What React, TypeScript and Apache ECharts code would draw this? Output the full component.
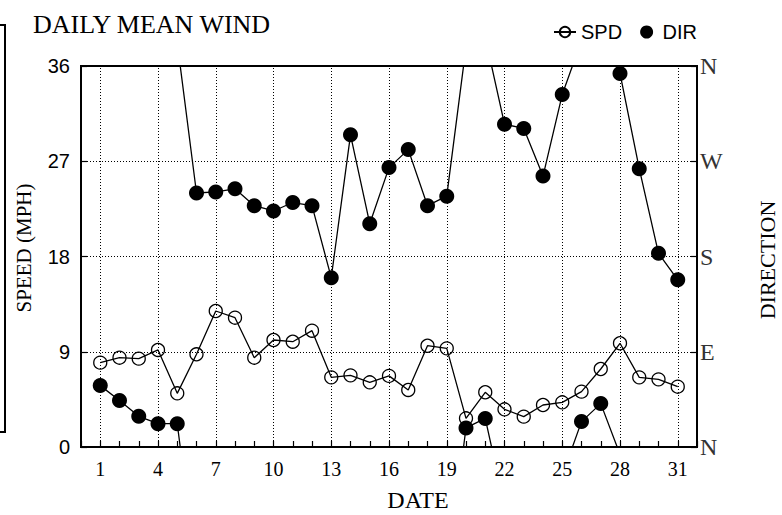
import React, { useEffect, useRef } from "react";
import * as echarts from "echarts";

// ---- data ----
const days = [1, 2, 3, 4, 5, 6, 7, 8, 9, 10, 11, 12, 13, 14, 15, 16, 17, 18, 19, 20, 21, 22, 23, 24, 25, 26, 27, 28, 29, 30, 31];
const speedMph = [7.97, 8.44, 8.35, 9.17, 5.07, 8.76, 12.85, 12.22, 8.44, 10.11, 9.95, 10.99, 6.58, 6.77, 6.11, 6.72, 5.39, 9.57, 9.32, 2.71, 5.17, 3.56, 2.87, 3.97, 4.22, 5.23, 7.37, 9.8, 6.58, 6.39, 5.7];
const directionDeg = [58, 44, 29, 22, 22, 240, 241, 244, 228, 223, 231, 228, 160, 295, 211, 264, 281, 228, 237, 18, 27, 305, 301, 256, 333, 24, 41, 353, 263, 183, 158];
const dateTickLabels = [1, 4, 7, 10, 13, 16, 19, 22, 25, 28, 31];
const directionTickLabels = ["N", "E", "S", "W", "N"];

const SERIF = "'Liberation Serif', 'Times New Roman', serif";
const SANS = "'Liberation Sans', Arial, sans-serif";
const DOT: number[] = [1, 2];

// split the direction trace where it wraps through north
function directionRuns(): number[][][] {
  const runs: number[][][] = [];
  let cur: number[][] = [[days[0], directionDeg[0]]];
  for (let i = 0; i < days.length - 1; i++) {
    const a = directionDeg[i];
    const b = directionDeg[i + 1];
    const d = b - a;
    if (d > 180) {
      cur.push([days[i + 1], b - 360]);
      runs.push(cur);
      cur = [[days[i], a + 360], [days[i + 1], b]];
    } else if (d < -180) {
      cur.push([days[i + 1], b + 360]);
      runs.push(cur);
      cur = [[days[i], a - 360], [days[i + 1], b]];
    } else {
      cur.push([days[i + 1], b]);
    }
  }
  runs.push(cur);
  return runs;
}

export default function App() {
  const ref = useRef<HTMLDivElement>(null);
  useEffect(() => {
    const chart = echarts.init(ref.current as HTMLDivElement, null, { renderer: "svg" });
    const runs = directionRuns();
    const dirLineSeries = runs.map((run, k) => ({
      type: "line",
      name: "DIRline" + k,
      yAxisIndex: 1,
      data: run,
      showSymbol: false,
      symbol: "none",
      clip: true,
      silent: true,
      lineStyle: { color: "#000", width: 1.3 },
      z: 3,
    }));
    const option: any = {
      animation: false,
      backgroundColor: "#fff",
      title: {
        text: "DAILY MEAN WIND",
        left: 33,
        top: 11,
        padding: 0,
        textStyle: { fontFamily: SERIF, fontSize: 26, fontWeight: "normal", color: "#000" },
      },
      legend: {
        data: [
          { name: "SPD" },
          { name: "DIR", icon: "circle" },
        ],
        left: 553,
        top: 22,
        padding: 0,
        itemGap: 18,
        itemWidth: 22,
        itemHeight: 13,
        selectedMode: false,
        textStyle: { fontFamily: SANS, fontSize: 20, color: "#000" },
      },
      grid: {
        left: 81,
        right: 85,
        top: 66,
        bottom: 68,
        show: true,
        borderColor: "#000",
        borderWidth: 2,
        containLabel: false,
      },
      xAxis: {
        type: "value",
        min: 0,
        max: 32,
        interval: 1,
        axisLine: { show: true, lineStyle: { color: "#000", width: 2 } },
        axisTick: { show: true, inside: true, length: 6, lineStyle: { color: "#000", width: 1.2 } },
        splitLine: { show: false },
        axisLabel: {
          margin: 12,
          fontFamily: SERIF,
          fontSize: 20,
          color: "#000",
          formatter: (v: number) => (dateTickLabels.indexOf(v) >= 0 ? String(v) : ""),
        },
      },
      yAxis: [
        {
          type: "value",
          min: 0,
          max: 36,
          interval: 9,
          position: "left",
          axisLine: { show: true, lineStyle: { color: "#000", width: 2 } },
          axisTick: { show: true, inside: true, length: 6, lineStyle: { color: "#000", width: 1.2 } },
          splitLine: { show: true, lineStyle: { color: "#000", width: 1, type: DOT } },
          axisLabel: { margin: 11, fontFamily: SANS, fontSize: 20, color: "#000" },
        },
        {
          type: "value",
          min: 0,
          max: 360,
          interval: 90,
          position: "right",
          axisLine: { show: true, lineStyle: { color: "#000", width: 2 } },
          axisTick: { show: true, inside: true, length: 6, lineStyle: { color: "#000", width: 1.2 } },
          splitLine: { show: false },
          axisLabel: {
            margin: 3,
            fontFamily: SERIF,
            fontSize: 24,
            color: "#333",
            formatter: (v: number) => directionTickLabels[Math.round(v / 90)],
          },
        },
      ],
      graphic: [
        {
          type: "rect",
          shape: { x: -10, y: 25, width: 15, height: 407 },
          style: { fill: "none", stroke: "#000", lineWidth: 2 },
          silent: true,
        },
        {
          type: "text",
          x: 418,
          y: 500,
          style: { text: "DATE", fontFamily: SERIF, fontSize: 24, fill: "#000", align: "center", verticalAlign: "middle" },
          silent: true,
        },
        {
          type: "text",
          x: 24,
          y: 248,
          rotation: Math.PI / 2,
          style: { text: "SPEED (MPH)", fontFamily: SERIF, fontSize: 21, fill: "#000", align: "center", verticalAlign: "middle" },
          silent: true,
        },
        {
          type: "text",
          x: 767,
          y: 260,
          rotation: Math.PI / 2,
          style: { text: "DIRECTION", fontFamily: SERIF, fontSize: 22, fill: "#000", align: "center", verticalAlign: "middle" },
          silent: true,
        },
      ],
      series: [
        {
          type: "line",
          name: "SPD",
          data: days.map((d, i) => [d, speedMph[i]]),
          symbol: "circle",
          symbolSize: 13,
          showSymbol: true,
          itemStyle: { color: "rgba(255,255,255,0)", borderColor: "#000", borderWidth: 1.3 },
          lineStyle: { color: "#000", width: 1.3 },
          z: 4,
          markLine: {
            silent: true,
            symbol: ["none", "none"],
            label: { show: false },
            lineStyle: { color: "#000", width: 1, type: DOT },
            emphasis: { disabled: true },
            data: dateTickLabels.map((d) => ({ xAxis: d })),
          },
        },
        ...dirLineSeries,
        {
          type: "scatter",
          name: "DIR",
          yAxisIndex: 1,
          data: days.map((d, i) => [d, directionDeg[i]]),
          symbol: "circle",
          symbolSize: 15,
          itemStyle: { color: "#000", opacity: 1 },
          z: 6,
        },
      ],
    };
    chart.setOption(option);
    return () => chart.dispose();
  }, []);
  return <div ref={ref} style={{ position: "absolute", left: 0, top: 0, width: 782, height: 515 }} />;
}
